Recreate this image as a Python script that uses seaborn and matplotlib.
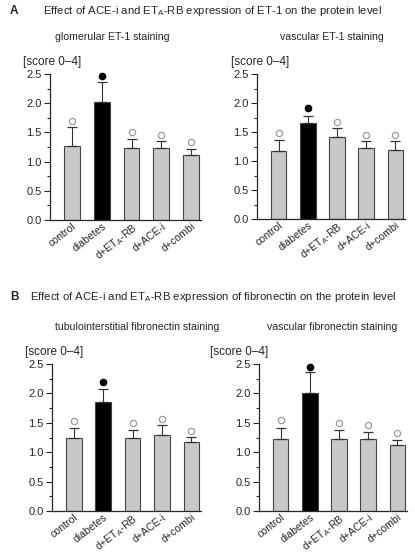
import numpy as np
import pandas as pd
import matplotlib
matplotlib.use("Agg")
import matplotlib.pyplot as plt
from matplotlib.ticker import MultipleLocator
from matplotlib import font_manager
import seaborn as sns

groups = ["control", "diabetes", "d+ET$_\\mathregular{A}$-RB", "d+ACE-i", "d+combi"]

glom_et1 = [1.27, 2.02, 1.23, 1.23, 1.12]
glom_et1_err = [0.33, 0.35, 0.15, 0.12, 0.09]
glom_et1_sig = [1.70, 2.47, 1.50, 1.46, 1.33]

vasc_et1 = [1.18, 1.65, 1.41, 1.23, 1.19]
vasc_et1_err = [0.19, 0.13, 0.16, 0.12, 0.16]
vasc_et1_sig = [1.48, 1.92, 1.68, 1.45, 1.45]

tub_fn = [1.24, 1.85, 1.24, 1.30, 1.17]
tub_fn_err = [0.17, 0.22, 0.14, 0.16, 0.09]
tub_fn_sig = [1.53, 2.19, 1.49, 1.57, 1.36]

vasc_fn = [1.23, 2.01, 1.22, 1.22, 1.12]
vasc_fn_err = [0.18, 0.36, 0.16, 0.13, 0.09]
vasc_fn_sig = [1.54, 2.45, 1.49, 1.46, 1.33]

sig_filled = [False, True, False, False, False]

sns.set_style("ticks")
plt.rcParams['font.family'] = ['Liberation Sans', 'DejaVu Sans']
plt.rcParams['mathtext.fontset'] = 'custom'
plt.rcParams['mathtext.rm'] = 'Liberation Sans'

avail = {f.name for f in font_manager.fontManager.ttflist}
NARROW = 'Liberation Sans Narrow' if 'Liberation Sans Narrow' in avail else 'Liberation Sans'
narrow_is = NARROW == 'Liberation Sans Narrow'

W, H = 415, 555
fig = plt.figure(figsize=(W / 100, H / 100), dpi=100)

def px(x, y):
    return x / W, 1 - y / H

def axes_px(l, t, r, b):
    return fig.add_axes([l / W, 1 - b / H, (r - l) / W, (b - t) / H])

bar_colors = ["#c8c8c8", "#000000", "#c8c8c8", "#c8c8c8", "#c8c8c8"]

def panel(ax, vals, errs, sig):
    df = pd.DataFrame({"group": groups, "score": vals})
    sns.barplot(data=df, x="group", y="score", hue="group", palette=bar_colors,
                legend=False, width=0.53, edgecolor="#444444", linewidth=0.8,
                ax=ax, errorbar=None)
    xs = np.arange(len(groups))
    ax.errorbar(xs, vals, yerr=[np.zeros(len(vals)), errs], fmt="none",
                ecolor="#333333", elinewidth=0.8, capsize=3.5, capthick=0.9,
                zorder=1)
    for x, s, f in zip(xs, sig, sig_filled):
        if f:
            ax.plot(x, s, "o", ms=4.5, mfc="black", mec="black", zorder=4, clip_on=False)
        else:
            ax.plot(x, s, "o", ms=4.5, mfc="white", mec="#9a9a9a", mew=0.9, zorder=4,
                    clip_on=False)
    ax.set_ylim(0, 2.5)
    ax.set_xlim(-0.74, 4.33)
    ax.yaxis.set_major_locator(MultipleLocator(0.5))
    ax.yaxis.set_minor_locator(MultipleLocator(0.25))
    ax.yaxis.set_major_formatter(matplotlib.ticker.FormatStrFormatter("%.1f"))
    ax.tick_params(axis="y", which="major", length=4, width=0.8, labelsize=8, pad=2)
    ax.tick_params(axis="y", which="minor", length=2.5, width=0.8)
    ax.tick_params(axis="x", length=0, pad=1)
    for lab in ax.get_xticklabels():
        lab.set_rotation(38)
        lab.set_ha("right")
        lab.set_rotation_mode("anchor")
        lab.set_family(NARROW)
        lab.set_fontsize(8.8 if narrow_is else 7.6)
    ax.set_xlabel("")
    ax.set_ylabel("")
    sns.despine(ax=ax)
    ax.spines["left"].set_linewidth(0.9)
    ax.spines["bottom"].set_linewidth(0.9)

ax1 = axes_px(50, 74, 201, 220)
ax2 = axes_px(257, 74, 405, 219)
ax3 = axes_px(52, 364, 201, 511)
ax4 = axes_px(259, 364, 407, 511)

panel(ax1, glom_et1, glom_et1_err, glom_et1_sig)
panel(ax2, vasc_et1, vasc_et1_err, vasc_et1_sig)
panel(ax3, tub_fn, tub_fn_err, tub_fn_sig)
panel(ax4, vasc_fn, vasc_fn_err, vasc_fn_sig)

def txt(x, y, s, **kw):
    fig.text(*px(x, y), s, va="center", **kw)

sub_kw = dict(family=NARROW, fontsize=8.6 if narrow_is else 7.6)

txt(10, 11, "A", fontsize=8.5, fontweight="bold")
txt(43, 11, "Effect of ACE-i and ET$_\\mathregular{A}$-RB expression of ET-1 on the protein level", fontsize=8.2)
txt(55, 37, "glomerular ET-1 staining", **sub_kw)
txt(280, 37, "vascular ET-1 staining", **sub_kw)
txt(23, 62, "[score 0\u20134]", fontsize=8.5)
txt(231, 62, "[score 0\u20134]", fontsize=8.5)

txt(10, 297, "B", fontsize=8.5, fontweight="bold")
txt(30, 297, "Effect of ACE-i and ET$_\\mathregular{A}$-RB expression of fibronectin on the protein level", fontsize=8.2)
txt(55, 327, "tubulointerstitial fibronectin staining", **sub_kw)
txt(267, 327, "vascular fibronectin staining", **sub_kw)
txt(25, 352, "[score 0\u20134]", fontsize=8.5)
txt(210, 352, "[score 0\u20134]", fontsize=8.5)

fig.savefig("out.png", dpi=100)
